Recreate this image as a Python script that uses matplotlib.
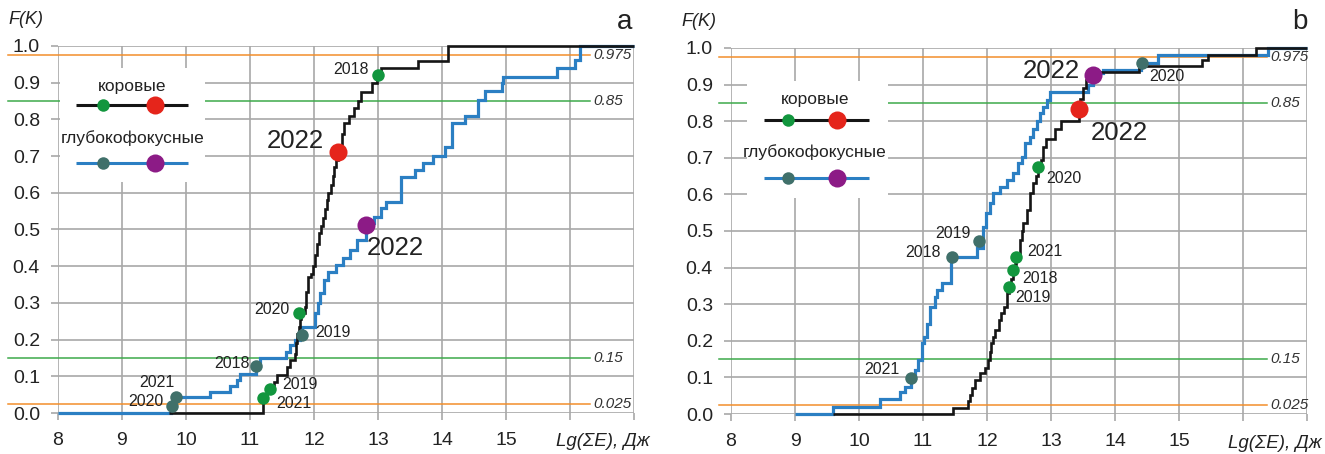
import matplotlib
matplotlib.use('Agg')
import matplotlib.pyplot as plt
from matplotlib.patches import Rectangle

plt.rcParams['font.family'] = ['Liberation Sans', 'DejaVu Sans']

X_MIN, X_MAX = 8, 17

# --- panel a ---------------------------------------------------------------
# empirical distribution F(K) of Lg(sum E), crustal events (коровые)
a_crust_e = [9.74, 11.21, 11.27, 11.31, 11.38, 11.42, 11.58, 11.62, 11.70, 11.72,
             11.74, 11.76, 11.78, 11.80, 11.86, 11.88, 11.90, 11.95, 11.99, 12.02,
             12.05, 12.08, 12.11, 12.14, 12.17, 12.20, 12.22, 12.26, 12.29, 12.32,
             12.35, 12.37, 12.40, 12.43, 12.47, 12.55, 12.62, 12.68, 12.74, 12.90,
             12.98, 13.05, 13.63, 14.10]
a_crust_f = [0.0, 0.042, 0.055, 0.066, 0.085, 0.104, 0.125, 0.144, 0.16, 0.19,
             0.215, 0.235, 0.255, 0.272, 0.29, 0.33, 0.37, 0.38, 0.40, 0.43,
             0.46, 0.49, 0.51, 0.53, 0.555, 0.58, 0.60, 0.62, 0.645, 0.67,
             0.69, 0.71, 0.73, 0.76, 0.79, 0.81, 0.83, 0.85, 0.875, 0.90,
             0.92, 0.94, 0.96, 1.0]
# deep-focus events (глубокофокусные)
a_deep_e = [8.0, 9.76, 9.82, 10.37, 10.69, 10.80, 10.85, 11.10, 11.16, 11.57,
            11.63, 11.70, 11.78, 11.81, 12.02, 12.06, 12.09, 12.15, 12.22, 12.35,
            12.46, 12.56, 12.67, 12.82, 12.86, 12.93, 13.04, 13.12, 13.36, 13.58,
            13.70, 13.86, 14.05, 14.16, 14.36, 14.57, 14.67, 14.93, 14.96, 15.79,
            16.08, 16.16]
a_deep_f = [0.0, 0.02, 0.043, 0.058, 0.074, 0.09, 0.105, 0.128, 0.149, 0.167,
            0.185, 0.20, 0.215, 0.235, 0.272, 0.30, 0.326, 0.362, 0.385, 0.403,
            0.421, 0.444, 0.471, 0.50, 0.517, 0.535, 0.558, 0.575, 0.644, 0.662,
            0.68, 0.70, 0.725, 0.789, 0.809, 0.853, 0.876, 0.898, 0.916, 0.939,
            0.962, 1.0]

years = ['2018', '2019', '2020', '2021', '2022']
a_crust_year_e = [13.00, 11.31, 11.77, 11.21, 12.37]
a_crust_year_f = [0.92, 0.065, 0.272, 0.040, 0.712]
a_deep_year_e = [11.10, 11.81, 9.78, 9.84, 12.81]
a_deep_year_f = [0.128, 0.213, 0.019, 0.044, 0.513]

# --- panel b ---------------------------------------------------------------
b_crust_e = [9.60, 11.47, 11.71, 11.73, 11.76, 11.81, 11.89, 11.97, 12.02, 12.05,
             12.07, 12.10, 12.13, 12.18, 12.22, 12.26, 12.31, 12.35, 12.38, 12.40,
             12.43, 12.46, 12.51, 12.54, 12.57, 12.62, 12.67, 12.72, 12.76, 12.80,
             12.85, 12.88, 12.92, 13.06, 13.15, 13.43, 13.46, 13.50, 13.55, 13.62,
             14.38, 15.36, 15.46, 16.20]
b_crust_f = [0.0, 0.016, 0.035, 0.052, 0.07, 0.093, 0.111, 0.125, 0.148, 0.17,
             0.193, 0.21, 0.23, 0.257, 0.275, 0.293, 0.33, 0.348, 0.37, 0.393,
             0.41, 0.428, 0.475, 0.50, 0.521, 0.557, 0.603, 0.63, 0.65, 0.674,
             0.694, 0.73, 0.752, 0.78, 0.80, 0.832, 0.86, 0.89, 0.913, 0.935,
             0.95, 0.966, 0.982, 1.0]
b_deep_e = [9.0, 9.60, 10.33, 10.64, 10.72, 10.81, 10.88, 10.92, 10.98, 11.02,
            11.06, 11.11, 11.19, 11.22, 11.29, 11.43, 11.84, 11.94, 11.99, 12.05,
            12.10, 12.20, 12.31, 12.40, 12.49, 12.54, 12.59, 12.67, 12.72, 12.78,
            12.83, 12.88, 12.93, 12.98, 13.58, 13.66, 13.82, 14.40, 14.67, 16.39]
b_deep_f = [0.0, 0.018, 0.04, 0.059, 0.075, 0.097, 0.12, 0.148, 0.193, 0.21,
            0.247, 0.293, 0.32, 0.339, 0.357, 0.43, 0.453, 0.512, 0.548, 0.576,
            0.603, 0.621, 0.639, 0.658, 0.685, 0.703, 0.74, 0.758, 0.78, 0.80,
            0.822, 0.84, 0.858, 0.881, 0.90, 0.931, 0.94, 0.959, 0.982, 1.0]

b_crust_year_e = [12.40, 12.35, 12.80, 12.46, 13.44]
b_crust_year_f = [0.393, 0.348, 0.674, 0.428, 0.832]
b_deep_year_e = [11.45, 11.87, 14.42, 10.81, 13.65]
b_deep_year_f = [0.430, 0.474, 0.959, 0.098, 0.925]

# quantile levels
levels = [0.975, 0.85, 0.15, 0.025]
level_labels = ['0.975', '0.85', '0.15', '0.025']
level_colors = ['#f28e2b', '#3daa4a', '#3daa4a', '#f28e2b']

C_CRUST = '#151515'
C_DEEP = '#2b7fc3'
C_CRUST_PT = '#12963e'
C_DEEP_PT = '#40706a'
C_CRUST_22 = '#e5251b'
C_DEEP_22 = '#8c1b86'
C_GRID = '#a8a8a8'
C_TEXT = '#222222'

# label offsets (points) and alignment for the yearly points
a_crust_off = [(-7, 4, 'right'), (9, 3, 'left'), (-7, 3, 'right'), (9, -4, 'left'), (-10, 8, 'right')]
a_deep_off = [(-5, 2, 'right'), (10, 2, 'left'), (-6, 3, 'right'), (-1, 10, 'right'), (1, -17, 'left')]
b_crust_off = [(7, -6, 'left'), (4, -8, 'left'), (6, -8, 'left'), (8, 4, 'left'), (8.5, -17, 'left')]
b_deep_off = [(-8, 3, 'right'), (-6, 5, 'right'), (5, -10, 'left'), (-8, 6, 'right'), (-9, 3, 'right')]


def draw_steps(ax, e, f, color, lw):
    # run the last level on to the right edge; keep lines at 0 and 1 unclipped
    ax.step(list(e) + [X_MAX], list(f) + [f[-1]], where='post', color=color,
            lw=lw, zorder=4, solid_joinstyle='miter', solid_capstyle='butt',
            clip_on=False)


def draw_years(ax, e, f, offsets, color, color22):
    for yr, x, y, (dx, dy, ha) in zip(years, e, f, offsets):
        big = yr == '2022'
        ax.plot(x, y, 'o', ms=13 if big else 9, color=color22 if big else color,
                mec='none', zorder=5, clip_on=False)
        ax.annotate(yr, (x, y), xytext=(dx, dy), textcoords='offset points',
                    ha=ha, va='center', fontsize=18.5 if big else 11.5,
                    color=C_TEXT, zorder=6)


def draw_legend(ax, box, xc, rows, x_line, x_pts):
    ax.add_patch(Rectangle((box[0], box[2]), box[1] - box[0], box[3] - box[2],
                           facecolor='white', edgecolor='none', zorder=3))
    for name, y_txt, y_line, lc, lw, pc, pc22 in rows:
        ax.text(xc, y_txt, name, ha='center', va='center', fontsize=12.5,
                color=C_TEXT, zorder=6)
        ax.plot(x_line, [y_line, y_line], color=lc, lw=lw, zorder=4,
                solid_capstyle='butt')
        ax.plot(x_pts[0], y_line, 'o', ms=9, color=pc, mec='none', zorder=5)
        ax.plot(x_pts[1], y_line, 'o', ms=13, color=pc22, mec='none', zorder=5)


def setup_axes(ax, line_x0, line_x1, lab_x):
    ax.set_xlim(X_MIN, X_MAX)
    ax.set_ylim(0, 1)
    ax.set_xticks(range(8, 18))
    ax.set_xticklabels([str(v) if v <= 15 else '' for v in range(8, 18)])
    ax.set_yticks([i / 10 for i in range(11)])
    ax.set_yticklabels(['%.1f' % (i / 10) for i in range(11)])
    for s in ax.spines.values():
        s.set_visible(False)
    ax.grid(True, color=C_GRID, lw=1.2, zorder=0)
    ax.set_axisbelow(True)
    ax.tick_params(axis='x', length=5, width=1.2, color=C_GRID, pad=9,
                   labelsize=14, labelcolor=C_TEXT)
    ax.tick_params(axis='y', length=5, width=1.2, color=C_GRID, pad=8,
                   labelsize=14, labelcolor=C_TEXT)
    for lv, lab, c in zip(levels, level_labels, level_colors):
        ax.plot([line_x0, line_x1], [lv, lv], color=c, lw=1.1, zorder=2,
                clip_on=False)
        ax.text(lab_x, lv, lab, ha='left', va='center', fontsize=11,
                style='italic', color='#333333', zorder=6)


fig = plt.figure(figsize=(13.25, 4.54), dpi=100)
ax_a = fig.add_axes([0.04377, 0.0903, 0.43472, 0.8084])
ax_b = fig.add_axes([0.5517, 0.0881, 0.43472, 0.8062])

# panel a
setup_axes(ax_a, 7.22, 16.31, 16.36)
draw_steps(ax_a, a_deep_e, a_deep_f, C_DEEP, 2.3)
draw_steps(ax_a, a_crust_e, a_crust_f, C_CRUST, 1.9)
draw_years(ax_a, a_deep_year_e, a_deep_year_f, a_deep_off, C_DEEP_PT, C_DEEP_22)
draw_years(ax_a, a_crust_year_e, a_crust_year_f, a_crust_off, C_CRUST_PT, C_CRUST_22)
draw_legend(ax_a, (8.03, 10.3, 0.63, 0.94), 9.16,
            [('коровые', 0.89, 0.839, C_CRUST, 2.2, C_CRUST_PT, C_CRUST_22),
             ('глубокофокусные', 0.749, 0.68, C_DEEP, 2.2, C_DEEP_PT, C_DEEP_22)],
            [8.28, 10.03], [8.70, 9.52])

# panel b
setup_axes(ax_b, 7.81, 16.38, 16.43)
draw_steps(ax_b, b_deep_e, b_deep_f, C_DEEP, 2.3)
draw_steps(ax_b, b_crust_e, b_crust_f, C_CRUST, 1.9)
draw_years(ax_b, b_deep_year_e, b_deep_year_f, b_deep_off, C_DEEP_PT, C_DEEP_22)
draw_years(ax_b, b_crust_year_e, b_crust_year_f, b_crust_off, C_CRUST_PT, C_CRUST_22)
draw_legend(ax_b, (8.25, 10.45, 0.59, 0.91), 9.31,
            [('коровые', 0.858, 0.803, C_CRUST, 2.2, C_CRUST_PT, C_CRUST_22),
             ('глубокофокусные', 0.716, 0.645, C_DEEP, 2.2, C_DEEP_PT, C_DEEP_22)],
            [8.52, 10.16], [8.89, 9.66])

# axis captions and panel letters
fig.text(8 / 1325, 1 - 19 / 454, 'F(K)', ha='left', va='center', fontsize=13,
         style='italic', color=C_TEXT)
fig.text(681 / 1325, 1 - 22 / 454, 'F(K)', ha='left', va='center', fontsize=13,
         style='italic', color=C_TEXT)
fig.text(650 / 1325, 1 - 441 / 454, 'Lg(ΣE), Дж', ha='right', va='center',
         fontsize=13.5, style='italic', color=C_TEXT)
fig.text(1322 / 1325, 1 - 443 / 454, 'Lg(ΣE), Дж', ha='right', va='center',
         fontsize=13.5, style='italic', color=C_TEXT)
fig.text(625 / 1325, 1 - 22 / 454, 'a', ha='center', va='center', fontsize=20,
         color=C_TEXT)
fig.text(1300 / 1325, 1 - 22 / 454, 'b', ha='center', va='center', fontsize=20,
         color=C_TEXT)

fig.savefig('out.png', dpi=100)
